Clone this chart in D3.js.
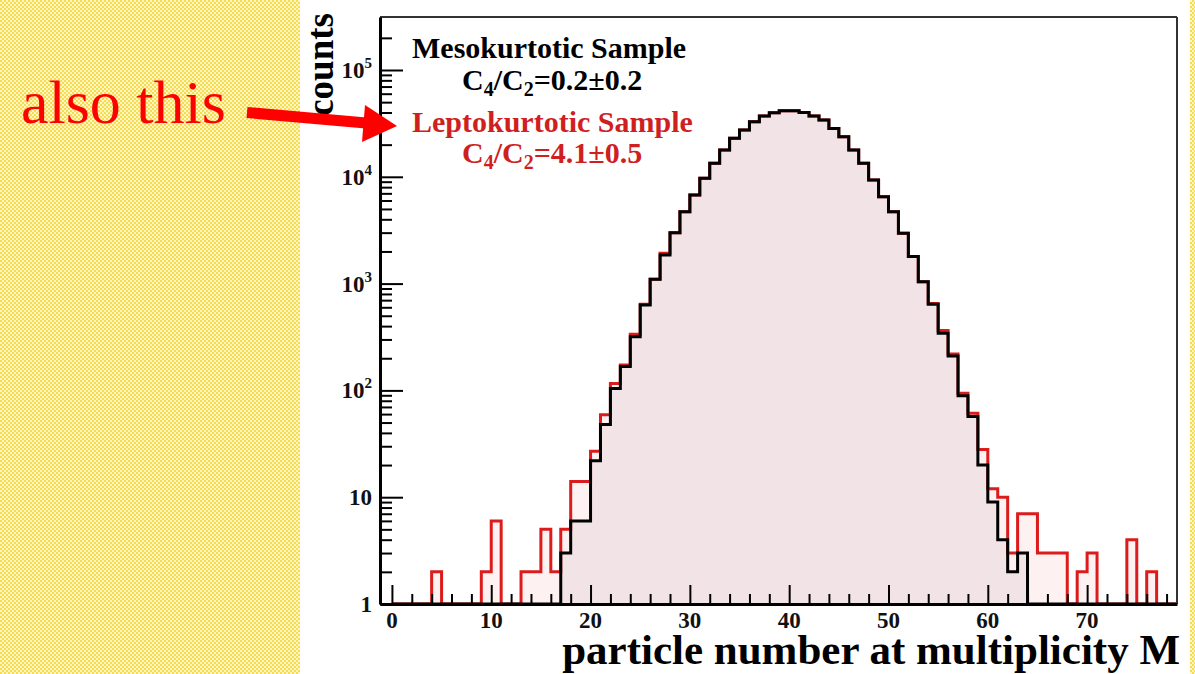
<!DOCTYPE html>
<html><head><meta charset="utf-8">
<script src="https://cdn.jsdelivr.net/npm/d3@7"></script>
<style>body{margin:0;background:#fff;} svg{display:block;}</style>
</head><body>
<svg id="c" width="1195" height="674"></svg>
<script>
// ---- data ----
const binLeftEdges = d3.range(0, 79); // unit-wide bins, M = 0..78
const mesoCounts = [
  0,0,0,0,0,0,0,0,0,0,0,0,0,0,0,0,0,
  3,6,6,22,48,104,167,318,630,1100,1850,3000,4700,6760,9680,13400,17800,22900,27400,32800,37100,39800,41600,
  41600,40000,37100,34000,28400,23700,17800,13400,9330,6510,4710,2960,1790,1040,640,343,210,89,57,20,9,4,2,3,
  0,0,0,0,0,0,0,0,0,0,0,0,0,0,0
];
const leptoCounts = [
  0,0,0,0,2,0,0,0,0,2,6,0,0,2,2,5,2,
  5,14,14,27,59,116,173,335,640,1100,1920,3000,4700,6760,9680,13400,17800,22900,27400,32800,37100,39800,41600,
  41600,40000,37100,34000,28400,23700,17800,13400,9330,6510,4710,2960,1790,1040,650,363,219,94,61,28,12,10,3,7,
  7,3,3,3,0,2,3,0,0,0,4,0,2,0,0
];
const xMajorTicks = [0,10,20,30,40,50,60,70];
const xMinorTicks = d3.range(0, 79, 2).filter(v => v % 10 !== 0);
const yMajorTicks = [1,10,100,1000,10000,100000];
const yTickBase = ["1","10","10","10","10","10"];
const yTickExp = ["","","2","3","4","5"];
const yMinorTicks = [];
[1,10,100,1000,10000,100000].forEach(d => { for (let k=2;k<=9;k++){ if (d*k < 250000) yMinorTicks.push(d*k);} });
const legendLines = [
  {parts:[["Mesokurtotic Sample",""]], color:"#000", key:"meso1"},
  {parts:[["C",""],["4","sub"],["/C",""],["2","sub"],["=0.2\u00b10.2",""]], color:"#000", key:"meso2"},
  {parts:[["Leptokurtotic Sample",""]], color:"#cf1f1f", key:"lep1"},
  {parts:[["C",""],["4","sub"],["/C",""],["2","sub"],["=4.1\u00b10.5",""]], color:"#cf1f1f", key:"lep2"}
];
const legendX = [412, 462, 412, 462];
const legendY = [58, 90, 132, 163];

// ---- layout ----
const svg = d3.select("#c");
const W = 1195, H = 674;
const frame = {left:380, right:1177, top:17, bottom:604};
const x = d3.scaleLinear().domain([-1.2, 79.05]).range([frame.left, frame.right]);
const y = d3.scaleLog().domain([1, Math.pow(10, 587/106.8)]).range([frame.bottom, frame.top]);
const FONT = "'Liberation Serif','Times New Roman',serif";

// background: yellow checker pattern
const defs = svg.append("defs");
const pat = defs.append("pattern").attr("id","chk").attr("width",4).attr("height",4).attr("patternUnits","userSpaceOnUse");
pat.append("rect").attr("width",4).attr("height",4).attr("fill","#fdf5c6");
pat.append("rect").attr("width",2).attr("height",2).attr("fill","#f7dc4c");
pat.append("rect").attr("x",2).attr("y",2).attr("width",2).attr("height",2).attr("fill","#f7dc4c");
svg.append("rect").attr("width",W).attr("height",H).attr("fill","url(#chk)");
svg.append("rect").attr("x",300).attr("y",0).attr("width",890).attr("height",H).attr("fill","#fff");

// histogram helpers
function stepPoints(counts){
  const pts = [];
  counts.forEach((c,i) => pts.push([binLeftEdges[i], Math.max(c,1)]));
  pts.push([binLeftEdges[counts.length-1]+1, Math.max(counts[counts.length-1],1)]);
  return pts;
}
const line = d3.line().x(d => x(d[0])).y(d => y(d[1])).curve(d3.curveStepAfter);
const area = d3.area().x(d => x(d[0])).y0(y(1)).y1(d => y(d[1])).curve(d3.curveStepAfter);

const plot = svg.append("g");
const clip = defs.append("clipPath").attr("id","pc");
clip.append("rect").attr("x",frame.left).attr("y",frame.top).attr("width",frame.right-frame.left).attr("height",frame.bottom-frame.top);
plot.attr("clip-path","url(#pc)");

const lepPts = stepPoints(leptoCounts);
const mesPts = stepPoints(mesoCounts);
plot.append("path").attr("d", area(lepPts)).attr("fill","#fdf1f1");
plot.append("path").attr("d", area(mesPts)).attr("fill","#f2e4e6");
plot.append("path").attr("d", line(lepPts)).attr("fill","none").attr("stroke","#dc1c1c").attr("stroke-width",3).attr("stroke-linejoin","miter");
plot.append("path").attr("d", line(mesPts)).attr("fill","none").attr("stroke","#000").attr("stroke-width",3).attr("stroke-linejoin","miter");

// frame top/right
svg.append("line").attr("x1",frame.left).attr("x2",frame.right).attr("y1",frame.top).attr("y2",frame.top).attr("stroke","#333").attr("stroke-width",2);
svg.append("line").attr("x1",frame.right).attr("x2",frame.right).attr("y1",frame.top).attr("y2",frame.bottom).attr("stroke","#333").attr("stroke-width",2);

// x axis
const gx = svg.append("g").attr("transform",`translate(0,${frame.bottom})`);
gx.call(d3.axisBottom(x).tickValues(xMajorTicks).tickSizeInner(-19).tickSizeOuter(0).tickFormat(""));
const gxm = svg.append("g").attr("transform",`translate(0,${frame.bottom})`);
gxm.call(d3.axisBottom(x).tickValues(xMinorTicks).tickSizeInner(-10).tickSizeOuter(0).tickFormat(""));
gxm.select(".domain").remove();
gx.select(".domain").attr("stroke","#000").attr("stroke-width",3);
svg.selectAll(".tick line").attr("stroke","#000").attr("stroke-width",2);

svg.append("g").selectAll("text").data(xMajorTicks).join("text")
  .attr("x", d => x(d)).attr("y", 628).attr("text-anchor","middle")
  .attr("font-family",FONT).attr("font-weight","bold").attr("font-size",23).attr("fill","#111")
  .text(d => d);

// y axis
const gy = svg.append("g").attr("transform",`translate(${frame.left},0)`);
gy.call(d3.axisLeft(y).tickValues(yMajorTicks).tickSizeInner(-23).tickSizeOuter(0).tickFormat(""));
const gym = svg.append("g").attr("transform",`translate(${frame.left},0)`);
gym.call(d3.axisLeft(y).tickValues(yMinorTicks).tickSizeInner(-12).tickSizeOuter(0).tickFormat(""));
gym.select(".domain").remove();
gy.select(".domain").attr("stroke","#000").attr("stroke-width",3);
gy.selectAll(".tick line").attr("stroke","#000").attr("stroke-width",2);
gym.selectAll(".tick line").attr("stroke","#000").attr("stroke-width",2);

const ylab = svg.append("g").selectAll("text").data(yMajorTicks).join("text")
  .attr("x", 372).attr("y", d => y(d) + 8).attr("text-anchor","end")
  .attr("font-family",FONT).attr("font-weight","bold").attr("font-size",23).attr("fill","#111");
ylab.each(function(d,i){
  const t = d3.select(this);
  t.append("tspan").text(yTickBase[i]);
  if (yTickExp[i]) t.append("tspan").attr("font-size",15).attr("dy",-10).text(yTickExp[i]);
});

// axis titles
svg.append("text").attr("transform","translate(333,13) rotate(-90)").attr("text-anchor","end")
  .attr("font-family",FONT).attr("font-weight","bold").attr("font-size",37).attr("fill","#000").text("counts");
svg.append("text").attr("x",1180).attr("y",664).attr("text-anchor","end")
  .attr("font-family",FONT).attr("font-weight","bold").attr("font-size",43).attr("fill","#000").text("particle number at multiplicity M");

// legend text
legendLines.forEach((ln,i) => {
  const t = svg.append("text").attr("x",legendX[i]).attr("y",legendY[i])
    .attr("font-family",FONT).attr("font-weight","bold").attr("font-size",30).attr("fill",ln.color);
  let shifted = false;
  ln.parts.forEach(p => {
    const s = t.append("tspan").text(p[0]);
    if (p[1]==="sub"){ s.attr("font-size",20).attr("dy", shifted ? 0 : 6); shifted = true; }
    else if (shifted){ s.attr("dy",-6); shifted = false; }
  });
});

// annotation
svg.append("text").attr("x",21).attr("y",123).attr("font-family",FONT).attr("font-size",62).attr("fill","#f00").text("also this");
svg.append("line").attr("x1",247).attr("y1",112.5).attr("x2",366).attr("y2",123).attr("stroke","#f00").attr("stroke-width",11);
svg.append("polygon").attr("points","365,105 397,126 362,142").attr("fill","#f00");
</script>
</body></html>
